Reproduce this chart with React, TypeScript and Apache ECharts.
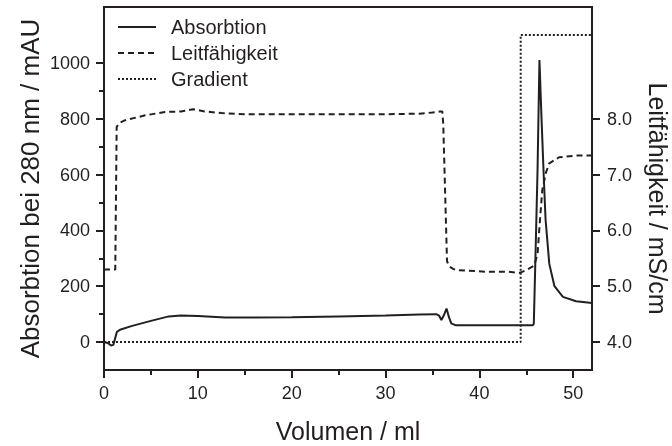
import React, { useEffect, useRef } from "react";
import * as echarts from "echarts";

const INK = "#231f20";
const FONT = "Liberation Sans, Arial, sans-serif";

// Absorbtion (mAU)
const absVolume = [0, 0.4, 0.75, 1.0, 1.2, 1.38, 1.7, 3, 5, 6.9, 8.2, 10, 12.9, 15, 20, 25, 30, 33.6, 35.4, 35.7, 35.95, 36.2, 36.5, 36.75, 37.0, 37.5, 40, 45, 45.7, 45.8, 46.0, 46.2, 46.4, 46.6, 46.85, 47.05, 47.45, 48.0, 48.9, 50.3, 52];
const absValue = [0, -3, -12, -10, 15, 37, 44, 58, 76, 92, 95, 93, 88, 88, 89, 92, 95, 99, 100, 95, 79, 95, 120, 90, 67, 60, 60, 60, 60, 66, 340, 620, 1010, 820, 600, 440, 280, 200, 162, 146, 140];

// Leitfähigkeit (mS/cm)
const condVolume = [0, 1.2, 1.35, 1.6, 2.2, 4.4, 6.5, 8.2, 9.5, 10.7, 12.5, 15, 20, 25, 30, 33.6, 35, 35.8, 36.05, 36.15, 36.55, 36.75, 37.2, 37.5, 40.7, 43, 44.3, 45.0, 45.85, 46.2, 46.4, 46.7, 47.1, 47.45, 48.5, 50.3, 52];
const condValue = [5.3, 5.3, 7.85, 7.92, 7.97, 8.06, 8.12, 8.13, 8.17, 8.13, 8.1, 8.08, 8.08, 8.08, 8.08, 8.09, 8.11, 8.13, 8.13, 7.9, 5.45, 5.36, 5.31, 5.29, 5.26, 5.26, 5.24, 5.29, 5.37, 5.58, 6.06, 6.72, 7.04, 7.2, 7.31, 7.34, 7.34];

// Gradient (plotted on mAU scale)
const gradVolume = [0, 44.4, 44.4, 52];
const gradValue = [0, 0, 1100, 1100];

const xTicks = [0, 10, 20, 30, 40, 50];
const xMinorTicks = [5, 15, 25, 35, 45];
const leftTicks = [0, 200, 400, 600, 800, 1000];
const leftMinorTicks = [100, 300, 500, 700, 900];
const rightTicks = [4, 5, 6, 7, 8];

const zip = (xs: number[], ys: number[]) => xs.map((x, i) => [x, ys[i]]);

export default function App() {
  const ref = useRef<HTMLDivElement>(null);
  useEffect(() => {
    if (!ref.current) return;
    const chart = echarts.init(ref.current, null, { renderer: "svg" });
    const line = { color: INK, width: 2 };
    const labelStyle = { color: INK, fontSize: 18, fontFamily: FONT };
    chart.setOption({
      animation: false,
      grid: {
        left: 104, top: 7, right: 80, bottom: 76, show: true,
        borderColor: INK, borderWidth: 2, backgroundColor: "transparent",
        outerBoundsMode: "none", containLabel: false,
      },
      legend: {
        orient: "vertical",
        left: 117,
        top: 17,
        padding: 0,
        itemWidth: 38,
        itemHeight: 14,
        itemGap: 6,
        itemStyle: { opacity: 0 },
        textStyle: { color: INK, fontSize: 20, fontFamily: FONT, padding: [0, 0, 0, 10] },
        data: ["Absorbtion", "Leitfähigkeit", "Gradient"],
      },
      xAxis: [
        {
          type: "value", min: 0, max: 52, position: "bottom",
          name: "Volumen / ml", nameLocation: "middle", nameGap: 48, nameMoveOverlap: false,
          nameTextStyle: { color: INK, fontSize: 25, fontFamily: FONT },
          axisLine: { show: true, onZero: false, lineStyle: line },
          axisTick: { show: true, customValues: xTicks, length: 8, lineStyle: line },
          axisLabel: { customValues: xTicks, margin: 14, formatter: (v: number) => String(v), ...labelStyle },
          splitLine: { show: false },
        },
        {
          type: "value", min: 0, max: 52, position: "bottom",
          axisLine: { show: false, onZero: false },
          axisTick: { show: true, customValues: xMinorTicks, length: 5, lineStyle: line },
          axisLabel: { show: false },
          splitLine: { show: false },
        },
      ],
      yAxis: [
        {
          type: "value", min: -100, max: 1200, position: "left",
          name: "Absorbtion bei 280 nm / mAU", nameLocation: "middle", nameGap: 61, nameMoveOverlap: false,
          nameTextStyle: { color: INK, fontSize: 26, fontFamily: FONT },
          axisLine: { show: true, onZero: false, lineStyle: line },
          axisTick: { show: true, customValues: leftTicks, length: 8, lineStyle: line },
          axisLabel: { customValues: leftTicks, margin: 14, formatter: (v: number) => String(v), ...labelStyle },
          splitLine: { show: false },
        },
        {
          type: "value", min: -100, max: 1200, position: "left",
          axisLine: { show: false, onZero: false },
          axisTick: { show: true, customValues: leftMinorTicks, length: 5, lineStyle: line },
          axisLabel: { show: false },
          splitLine: { show: false },
        },
        {
          type: "value", min: 3.5, max: 10, position: "right",
          name: "Leitfähigkeit / mS/cm", nameLocation: "middle", nameGap: 53, nameRotate: -90, nameMoveOverlap: false,
          nameTextStyle: { color: INK, fontSize: 25, fontFamily: FONT, padding: [0, 0, 0, 20] },
          axisLine: { show: true, onZero: false, lineStyle: line },
          axisTick: { show: true, customValues: rightTicks, length: 8, lineStyle: line },
          axisLabel: { customValues: rightTicks, margin: 15, formatter: (v: number) => v.toFixed(1), ...labelStyle },
          splitLine: { show: false },
        },
      ],
      series: [
        {
          name: "Absorbtion", type: "line", xAxisIndex: 0, yAxisIndex: 0, symbol: "none",
          lineStyle: { color: INK, width: 2 }, itemStyle: { color: INK },
          data: zip(absVolume, absValue),
        },
        {
          name: "Leitfähigkeit", type: "line", xAxisIndex: 0, yAxisIndex: 2, symbol: "none",
          lineStyle: { color: INK, width: 2, type: [6, 4] }, itemStyle: { color: INK },
          data: zip(condVolume, condValue),
        },
        {
          name: "Gradient", type: "line", xAxisIndex: 0, yAxisIndex: 0, symbol: "none",
          lineStyle: { color: INK, width: 2, type: [2, 2] }, itemStyle: { color: INK },
          data: zip(gradVolume, gradValue),
        },
      ],
    });
    return () => chart.dispose();
  }, []);
  return <div ref={ref} style={{ position: "fixed", left: 0, top: 0, width: 672, height: 446 }} />;
}
